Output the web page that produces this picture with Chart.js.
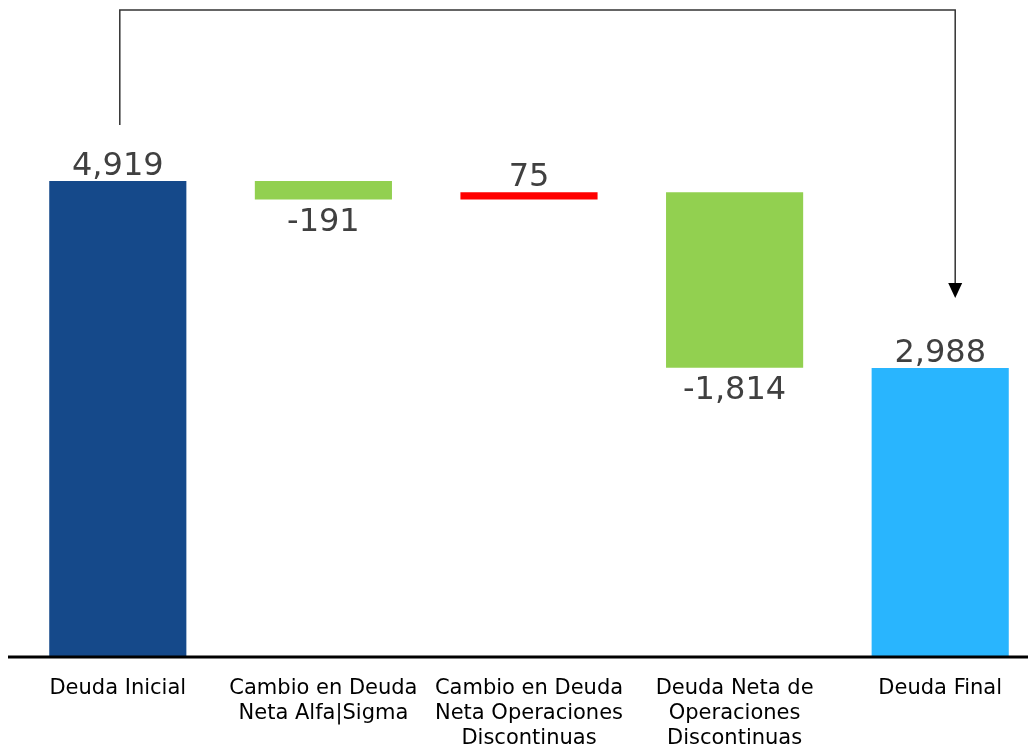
<!DOCTYPE html>
<html>
<head>
<meta charset="utf-8">
<script src="https://cdn.jsdelivr.net/npm/chart.js@4.4.0/dist/chart.umd.min.js"></script>
<style>
  html, body { margin: 0; padding: 0; overflow: hidden; background: #fff; }
  #wrap { width: 1043px; height: 745px; }
</style>
</head>
<body>
<div id="wrap"><canvas id="myChart"></canvas></div>
<script>
// data
const categorias = [
    'Deuda Inicial',
    ['Cambio en Deuda', 'Neta Alfa|Sigma'],
    ['Cambio en Deuda', 'Neta Operaciones', 'Discontinuas'],
    ['Deuda Neta de', 'Operaciones', 'Discontinuas'],
    'Deuda Final'
];
const valores = [4919, -191, 75, -1814, 2988];
const tipos = ['total', 'delta', 'delta', 'delta', 'total'];
const colores = ['#15498A', '#92D050', '#FF0000', '#92D050', '#29B5FE'];

// floating bars [start, end]
let acumulado = 0;
const barras = valores.map(function (v, i) {
    if (tipos[i] === 'total') {
        acumulado = v;
        return [0, v];
    }
    const inicio = acumulado;
    acumulado = acumulado + v;
    return [inicio, acumulado];
});

const etiquetas = {
    id: 'etiquetas',
    afterDatasetsDraw(chart) {
        const ctx = chart.ctx;
        const meta = chart.getDatasetMeta(0);
        const y = chart.scales.y;
        ctx.save();
        // baseline
        ctx.strokeStyle = '#000';
        ctx.lineWidth = 3;
        ctx.beginPath();
        ctx.moveTo(8, chart.chartArea.bottom);
        ctx.lineTo(chart.width, chart.chartArea.bottom);
        ctx.stroke();

        ctx.font = '32px "DejaVu Sans", Verdana, sans-serif';
        ctx.fillStyle = '#404040';
        ctx.textAlign = 'center';
        ctx.textBaseline = 'alphabetic';
        meta.data.forEach(function (bar, i) {
            const v = valores[i];
            const texto = v.toLocaleString('en-US');
            const arriba = y.getPixelForValue(Math.max(barras[i][0], barras[i][1]));
            const abajo = y.getPixelForValue(Math.min(barras[i][0], barras[i][1]));
            if (v >= 0) {
                ctx.fillText(texto, bar.x, arriba - 6);
            } else {
                ctx.fillText(texto, bar.x, abajo + 31);
            }
        });
        ctx.restore();
    },
    afterDraw(chart) {
        // connector arrow from first to last bar
        const ctx = chart.ctx;
        const x = chart.scales.x;
        const y = chart.scales.y;
        const x1 = x.getPixelForValue(0) + 2;
        const x2 = x.getPixelForValue(4) + 15;
        const y1 = y.getPixelForValue(valores[0]) - 56;
        const y2 = y.getPixelForValue(valores[4]) - 70;
        const yTop = 10;
        ctx.save();
        ctx.strokeStyle = '#333';
        ctx.lineWidth = 1.5;
        ctx.beginPath();
        ctx.moveTo(x1, y1);
        ctx.lineTo(x1, yTop);
        ctx.lineTo(x2, yTop);
        ctx.lineTo(x2, y2 - 14);
        ctx.stroke();
        ctx.fillStyle = '#000';
        ctx.beginPath();
        ctx.moveTo(x2 - 7, y2 - 15);
        ctx.lineTo(x2 + 7, y2 - 15);
        ctx.lineTo(x2, y2);
        ctx.closePath();
        ctx.fill();
        ctx.restore();
    }
};

const ctx = document.getElementById('myChart').getContext('2d');
const myChart = new Chart(ctx, {
    type: 'bar',
    data: {
        labels: categorias,
        datasets: [{
            data: barras,
            backgroundColor: colores,
            borderWidth: 0,
            barPercentage: 0.667,
            categoryPercentage: 1
        }]
    },
    options: {
        responsive: true,
        maintainAspectRatio: false,
        animation: false,
        layout: { padding: { left: 15, right: 0, top: 0, bottom: 0 } },
        plugins: {
            legend: { display: false },
            tooltip: { enabled: false }
        },
        scales: {
            x: {
                grid: { display: false, drawTicks: false },
                border: { display: false },
                ticks: {
                    color: '#000',
                    font: { family: '"DejaVu Sans", Verdana, sans-serif', size: 21, lineHeight: 1.2 },
                    padding: 19,
                    maxRotation: 0,
                    autoSkip: false
                },
                afterFit(scale) {
                    scale.height = 88;
                }
            },
            y: {
                display: false,
                min: 0,
                max: 6790
            }
        }
    },
    plugins: [etiquetas]
});
</script>
</body>
</html>
